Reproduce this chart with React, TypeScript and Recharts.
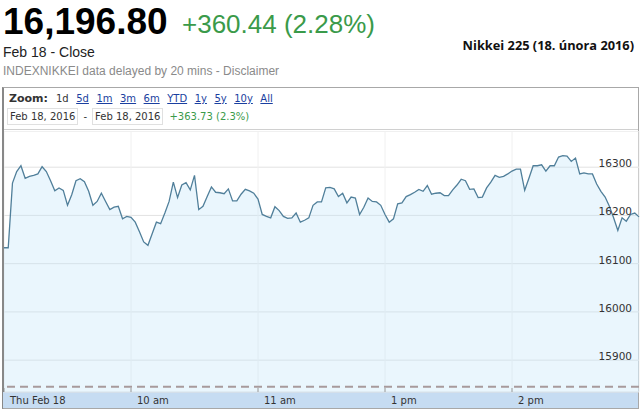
import React from "react";
import { Area, AreaChart, CartesianGrid, ReferenceLine, XAxis, YAxis } from "recharts";

// Nikkei 225, 18 Feb 2016, 2-minute intraday closes (lunch break removed)
const prices = [
  16133, 16133, 16267, 16291, 16303, 16277, 16281, 16283, 16286, 16301,
  16291, 16272, 16251, 16257, 16252, 16221, 16243, 16272, 16276, 16270,
  16250, 16221, 16229, 16246, 16229, 16212, 16217, 16219, 16193, 16198,
  16196, 16186, 16166, 16145, 16138, 16162, 16186, 16183, 16205, 16229,
  16269, 16237, 16263, 16268, 16253, 16283, 16212, 16219, 16239, 16259,
  16248, 16247, 16245, 16255, 16230, 16230, 16244, 16254, 16251, 16246,
  16234, 16202, 16198, 16195, 16218, 16210, 16198, 16194, 16195, 16205,
  16186, 16190, 16195, 16221, 16228, 16228, 16257, 16258, 16255, 16239,
  16246, 16226, 16238, 16236, 16202, 16217, 16236, 16229, 16228, 16221,
  16202, 16186, 16193, 16224, 16226, 16239, 16243, 16248, 16254, 16250,
  16262, 16244, 16246, 16247, 16241, 16241, 16253, 16263, 16275, 16272,
  16254, 16255, 16237, 16238, 16257, 16269, 16283, 16279, 16281, 16286,
  16292, 16296, 16296, 16252, 16277, 16303, 16303, 16305, 16292, 16303,
  16303, 16321, 16324, 16323, 16312, 16319, 16286, 16288, 16286, 16286,
  16265, 16250, 16238, 16219, 16195, 16169, 16195, 16188, 16202, 16205,
  16197,
];
const stepMinutes = 2;
const timeTicks = [0, 60, 120, 180, 240];
const timeLabels = ["Thu Feb 18", "10 am", "11 am", "1 pm", "2 pm"];
const priceTicks = [15900, 16000, 16100, 16200, 16300];
const previousClose = 15845;
const zoomLinks = ["1d", "5d", "1m", "3m", "6m", "YTD", "1y", "5y", "10y", "All"];

const data = prices.map((price, i) => ({ t: i * stepMinutes, price }));

const CHART_W = 636;
const CHART_H = 278;
const verdana = "'DejaVu Sans', Verdana, sans-serif";
const arial = "'Liberation Sans', Arial, sans-serif";
const green = "#3a9a4a";

function TimeTick(props: any) {
  const { x, y, payload } = props;
  const label = timeLabels[timeTicks.indexOf(payload.value)];
  return (
    <g>
      <line x1={x} x2={x} y1={y - 4} y2={y} stroke="#9a9a9a" />
      <text x={x + 6} y={y + 12} fontSize={10} fontFamily={verdana} fill="#333">
        {label}
      </text>
    </g>
  );
}

function PriceTick(props: any) {
  const { y, payload } = props;
  return (
    <text x={CHART_W - 8} y={y} textAnchor="end" fontSize={10.5} fontFamily={verdana} fill="#333">
      {payload.value}
    </text>
  );
}

export default function App() {
  return (
    <div style={{ position: "absolute", left: 0, top: 0, width: 640, height: 410, background: "#fff", overflow: "hidden" }}>
      <div style={{ position: "absolute", left: 3, top: 3, fontFamily: arial, fontWeight: 700, fontSize: 37, lineHeight: "37px", color: "#000" }}>
        16,196.80
      </div>
      <div style={{ position: "absolute", left: 182, top: 11, fontFamily: arial, fontSize: 26, lineHeight: "26px", color: green }}>
        +360.44 (2.28%)
      </div>
      <div style={{ position: "absolute", left: 3, top: 45, fontFamily: arial, fontSize: 14, lineHeight: "14px", color: "#222" }}>
        Feb 18 - Close
      </div>
      <div style={{ position: "absolute", left: 3, top: 65, fontFamily: arial, fontSize: 12, lineHeight: "12px", color: "#8a8a8a" }}>
        INDEXNIKKEI data delayed by 20 mins - Disclaimer
      </div>
      <div style={{ position: "absolute", right: 6, top: 39, fontFamily: "'Open Sans', sans-serif", fontWeight: 700, fontSize: 12.8, lineHeight: "13px", color: "#111" }}>
        Nikkei 225 (18. února 2016)
      </div>

      {/* chart frame */}
      <div style={{ position: "absolute", left: 2, top: 87, width: 637, height: 322, boxSizing: "border-box", border: "1px solid #a8a8a8", borderLeft: "2px solid #888" }} />
      <div style={{ position: "absolute", left: 4, top: 129, width: 634, height: 1, background: "#d0d0d0" }} />

      <div style={{ position: "absolute", left: 9, top: 92, display: "flex", alignItems: "baseline", fontFamily: verdana, fontSize: 10, color: "#333" }}>
        <span style={{ fontWeight: 700, fontSize: 11, marginRight: 8 }}>Zoom:</span>
        {zoomLinks.map((z, i) => (
          <span
            key={z}
            style={{ marginRight: 7.5, color: i === 0 ? "#333" : "#1a3fa0", textDecoration: i === 0 ? "none" : "underline" }}
          >
            {z}
          </span>
        ))}
      </div>
      <div style={{ position: "absolute", left: 7, top: 108, display: "flex", alignItems: "center", fontFamily: verdana, fontSize: 10, color: "#333" }}>
        <span style={{ border: "1px solid #e0e0e0", padding: "1px 2px", lineHeight: "13px" }}>Feb 18, 2016</span>
        <span style={{ margin: "0 5px" }}>-</span>
        <span style={{ border: "1px solid #e0e0e0", padding: "1px 2px", lineHeight: "13px" }}>Feb 18, 2016</span>
        <span style={{ marginLeft: 6, color: green }}>+363.73 (2.3%)</span>
      </div>

      {/* time axis band */}
      <div style={{ position: "absolute", left: 3, top: 392, width: 635, height: 16, background: "#c6dcf2" }} />

      <div style={{ position: "absolute", left: 4, top: 131 }}>
        <AreaChart width={CHART_W} height={CHART_H} data={data} margin={{ top: 0, right: 1, bottom: 0, left: 0 }}>
          <CartesianGrid horizontal vertical={false} stroke="#e2e2e2" />
          <CartesianGrid horizontal={false} vertical stroke="#f0f0f0" />
          <XAxis
            dataKey="t"
            type="number"
            domain={[0, 300]}
            ticks={timeTicks}
            interval={0}
            height={17}
            axisLine={false}
            tickLine={false}
            tickSize={0}
            tickMargin={0}
            tick={<TimeTick />}
          />
          <YAxis
            orientation="right"
            mirror
            domain={[15834, 16375]}
            allowDataOverflow
            ticks={priceTicks}
            axisLine={false}
            tickLine={false}
            tick={<PriceTick />}
          />
          <Area
            type="linear"
            dataKey="price"
            stroke="#507f9a"
            strokeWidth={1.3}
            fill="#bfe3f8"
            fillOpacity={0.33}
            dot={false}
            activeDot={false}
            isAnimationActive={false}
          />
          <ReferenceLine y={previousClose} stroke="#a89a9c" strokeDasharray="8 5" strokeWidth={2} />
        </AreaChart>
      </div>
    </div>
  );
}
